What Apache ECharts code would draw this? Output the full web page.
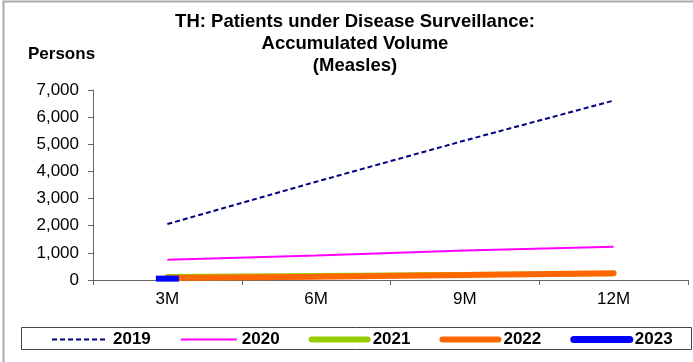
<!DOCTYPE html>
<html>
<head>
<meta charset="utf-8">
<script src="https://cdn.jsdelivr.net/npm/echarts@6/dist/echarts.min.js"></script>
<style>
  html, body { margin: 0; padding: 0; background: #fff; }
  #main { width: 693px; height: 362px; }
</style>
</head>
<body>
<div id="main"></div>
<script>
// accumulated patients per quarter
var periods = ["3M", "6M", "9M", "12M"];
var y2019 = [2060, 3620, 5140, 6610];
var y2020 = [748, 900, 1090, 1227];
var y2021 = [130, 170, 200, 230];
var y2022 = [70, 120, 180, 250];
var y2023 = [50];
var yTicks = [0, 1000, 2000, 3000, 4000, 5000, 6000, 7000];

var font = "Liberation Sans, Arial, sans-serif";
var chart = echarts.init(document.getElementById("main"));

chart.setOption({
  animation: false,
  textStyle: { fontFamily: font },
  title: {
    text: "TH: Patients under Disease Surveillance:\nAccumulated Volume\n(Measles)",
    left: 350,
    textAlign: "center",
    top: 6,
    textStyle: { fontSize: 18.5, fontWeight: "bold", color: "#000", lineHeight: 22, fontFamily: font }
  },
  legend: {
    left: 46,
    top: 326,
    itemWidth: 56,
    itemHeight: 14,
    itemGap: 29,
    itemStyle: { opacity: 0 },
    textStyle: { fontSize: 17, fontWeight: "bold", color: "#000", fontFamily: font },
    data: [
      { name: "2019", lineStyle: { width: 2 } },
      { name: "2020", lineStyle: { width: 2 } },
      { name: "2021", lineStyle: { width: 6, cap: "round" } },
      { name: "2022", lineStyle: { width: 6, cap: "round" } },
      { name: "2023", lineStyle: { width: 7, cap: "round" } }
    ]
  },
  grid: { left: 93, right: 5, top: 90, bottom: 82 },
  xAxis: {
    type: "category",
    data: periods,
    boundaryGap: true,
    axisLine: { lineStyle: { color: "#666", width: 1 } },
    axisTick: { show: true, length: 5, lineStyle: { color: "#666" } },
    axisLabel: { color: "#000", fontSize: 17, margin: 11, fontFamily: font }
  },
  yAxis: {
    type: "value",
    min: yTicks[0],
    max: yTicks[yTicks.length - 1],
    interval: 1000,
    splitLine: { show: false },
    axisLine: { show: true, lineStyle: { color: "#666", width: 1 } },
    axisTick: { show: true, length: 5, lineStyle: { color: "#666" } },
    axisLabel: {
      color: "#000", fontSize: 17, margin: 14, fontFamily: font,
      formatter: function (v) { return v.toLocaleString("en-US"); }
    }
  },
  graphic: [
    {
      type: "rect",
      shape: { x: 3.5, y: 1.5, width: 720, height: 400 },
      style: { fill: "none", stroke: "#aaa", lineWidth: 2 },
      silent: true
    },
    {
      type: "rect",
      shape: { x: 21.5, y: 327.5, width: 670, height: 22 },
      style: { fill: "none", stroke: "#444", lineWidth: 1 },
      silent: true
    },
    {
      type: "text",
      left: 28,
      top: 46,
      style: { text: "Persons", font: "bold 17px " + font, fill: "#000" }
    }
  ],
  series: [
    {
      name: "2019", type: "line", data: y2019, symbol: "none",
      lineStyle: { color: "#000080", width: 2, type: [5, 3] },
      itemStyle: { color: "#000080" }
    },
    {
      name: "2020", type: "line", data: y2020, symbol: "none",
      lineStyle: { color: "#ff00ff", width: 2 },
      itemStyle: { color: "#ff00ff" }
    },
    {
      name: "2021", type: "line", data: y2021, symbol: "none",
      lineStyle: { color: "#99cc00", width: 5, cap: "round" },
      itemStyle: { color: "#99cc00" }
    },
    {
      name: "2022", type: "line", data: y2022, symbol: "none",
      lineStyle: { color: "#ff6600", width: 6, cap: "round" },
      itemStyle: { color: "#ff6600" }
    },
    {
      name: "2023", type: "line", data: y2023,
      symbol: "rect", symbolSize: [23, 6], showSymbol: true,
      lineStyle: { color: "#0000ff", width: 6, cap: "round" },
      itemStyle: { color: "#0000ff" }
    }
  ]
});
</script>
</body>
</html>
